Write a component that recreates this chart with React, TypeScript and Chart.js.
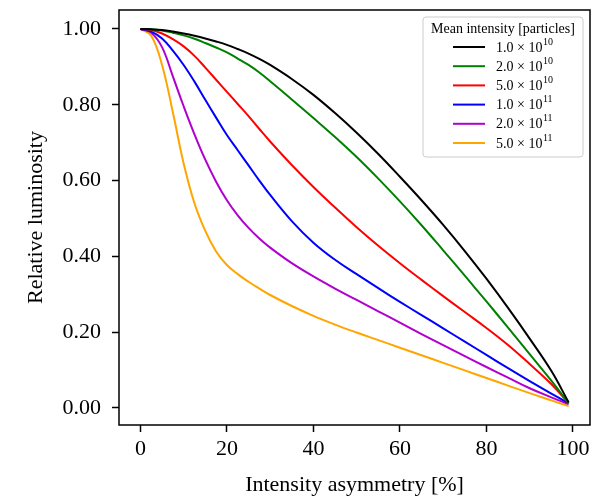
import React, { useEffect, useRef } from 'react';
import { Chart, registerables } from 'chart.js';

Chart.register(...registerables);

// ---- Data ----
const xValues = [0, 2.5, 5, 7.5, 10, 12.5, 15, 17.5, 20, 22.5, 25, 27.5, 30, 35, 40, 45, 50, 55, 60, 65, 70, 75, 80, 85, 90, 95, 99];

const lum1e10 = [1.0, 0.999, 0.997, 0.993, 0.988, 0.982, 0.975, 0.967, 0.958, 0.947, 0.935, 0.921, 0.905, 0.868, 0.826, 0.778, 0.726, 0.67, 0.61, 0.548, 0.483, 0.414, 0.341, 0.264, 0.183, 0.098, 0.015];
const lum2e10 = [1.0, 0.999, 0.996, 0.99, 0.983, 0.974, 0.963, 0.951, 0.938, 0.922, 0.905, 0.885, 0.862, 0.814, 0.765, 0.715, 0.662, 0.605, 0.545, 0.482, 0.416, 0.349, 0.281, 0.212, 0.142, 0.072, 0.013];
const lum5e10 = [1.0, 0.997, 0.988, 0.973, 0.954, 0.929, 0.898, 0.866, 0.834, 0.802, 0.77, 0.736, 0.703, 0.641, 0.583, 0.529, 0.477, 0.428, 0.382, 0.338, 0.295, 0.253, 0.211, 0.166, 0.116, 0.063, 0.012];
const lum1e11 = [1.0, 0.993, 0.975, 0.943, 0.905, 0.861, 0.813, 0.766, 0.72, 0.68, 0.64, 0.6, 0.562, 0.493, 0.436, 0.391, 0.353, 0.316, 0.28, 0.245, 0.21, 0.175, 0.14, 0.105, 0.071, 0.038, 0.012];
const lum2e11 = [1.0, 0.99, 0.952, 0.875, 0.796, 0.722, 0.655, 0.597, 0.548, 0.508, 0.475, 0.447, 0.423, 0.382, 0.347, 0.315, 0.285, 0.255, 0.225, 0.195, 0.166, 0.137, 0.108, 0.08, 0.052, 0.028, 0.01];
const lum5e11 = [1.0, 0.982, 0.905, 0.78, 0.645, 0.54, 0.467, 0.413, 0.377, 0.353, 0.333, 0.315, 0.298, 0.269, 0.243, 0.22, 0.199, 0.179, 0.159, 0.139, 0.119, 0.099, 0.079, 0.059, 0.039, 0.02, 0.005];

const seriesValues = [lum1e10, lum2e10, lum5e10, lum1e11, lum2e11, lum5e11];
const labelMantissas = ['1.0', '2.0', '5.0', '1.0', '2.0', '5.0'];
const labelExponents = ['10', '10', '10', '11', '11', '11'];
const seriesColors = ['#000000', '#008000', '#ff0000', '#0000ff', '#b000d0', '#ffa500'];

const legendTitle = 'Mean intensity [particles]';
const xTitle = 'Intensity asymmetry [%]';
const yTitle = 'Relative luminosity';

const FONT = '"Liberation Serif", "Times New Roman", serif';

const framePlugin = {
  id: 'frame',
  afterDatasetsDraw(chart: any) {
    const { ctx, chartArea } = chart;
    ctx.save();
    ctx.strokeStyle = '#000';
    ctx.lineWidth = 1.5;
    ctx.strokeRect(chartArea.left, chartArea.top, chartArea.right - chartArea.left, chartArea.bottom - chartArea.top);
    ctx.restore();
  },
};

const legendPlugin = {
  id: 'mplLegend',
  afterDraw(chart: any) {
    const { ctx, chartArea } = chart;
    const w = 160;
    const h = 140;
    const x0 = chartArea.right - 7 - w;
    const y0 = chartArea.top + 7;
    ctx.save();
    ctx.beginPath();
    ctx.roundRect(x0, y0, w, h, 3);
    ctx.fillStyle = 'rgba(255,255,255,0.85)';
    ctx.fill();
    ctx.strokeStyle = '#cccccc';
    ctx.lineWidth = 1;
    ctx.stroke();

    ctx.fillStyle = '#000';
    ctx.font = `14px ${FONT}`;
    ctx.textAlign = 'center';
    ctx.textBaseline = 'middle';
    ctx.fillText(legendTitle, x0 + w / 2, y0 + 12.5);

    for (let i = 0; i < seriesValues.length; i++) {
      const ly = y0 + 30 + i * 19.2;
      ctx.strokeStyle = seriesColors[i];
      ctx.lineWidth = 2;
      ctx.beginPath();
      ctx.moveTo(x0 + 30, ly);
      ctx.lineTo(x0 + 62, ly);
      ctx.stroke();

      ctx.fillStyle = '#000';
      ctx.textAlign = 'left';
      ctx.font = `14px ${FONT}`;
      const main = `${labelMantissas[i]} \u00d7 10`;
      const tx = x0 + 73;
      ctx.fillText(main, tx, ly + 1);
      const mw = ctx.measureText(main).width;
      ctx.font = `10px ${FONT}`;
      ctx.fillText(labelExponents[i], tx + mw + 0.5, ly - 5);
    }
    ctx.restore();
  },
};

export default function App() {
  const canvasRef = useRef<HTMLCanvasElement | null>(null);

  useEffect(() => {
    const canvas = canvasRef.current;
    if (!canvas) return;
    const datasets = seriesValues.map((vals, i) => ({
      label: `${labelMantissas[i]}×10^${labelExponents[i]}`,
      data: xValues.map((x, j) => ({ x, y: vals[j] })),
      borderColor: seriesColors[i],
      backgroundColor: seriesColors[i],
      borderWidth: 2,
      pointRadius: 0,
      tension: 0.4,
      fill: false,
    }));

    const chart = new Chart(canvas, {
      type: 'line',
      data: { datasets },
      options: {
        responsive: false,
        animation: false,
        layout: { padding: { top: 10, right: 7, left: 0, bottom: 0 } },
        plugins: {
          legend: { display: false },
          tooltip: { enabled: false },
        },
        scales: {
          x: {
            type: 'linear',
            min: -4.95,
            max: 103.95,
            ticks: {
              stepSize: 20,
              includeBounds: false,
              autoSkip: false,
              maxRotation: 0,
              color: '#000',
              padding: 4,
              font: { family: FONT, size: 22 },
              callback: (v: any) => String(Math.round(Number(v))),
            },
            grid: { drawOnChartArea: false, drawTicks: true, tickLength: 7, tickColor: '#000', tickWidth: 1.5 },
            border: { display: false },
            title: {
              display: true,
              text: xTitle,
              color: '#000',
              font: { family: FONT, size: 22, lineHeight: 1.2 },
              padding: { top: 0, bottom: 0 },
            },
            afterFit: (s: any) => {
              s.height = 73;
              s.paddingLeft = 0;
              s.paddingRight = 0;
            },
          },
          y: {
            type: 'linear',
            min: -0.045,
            max: 1.05,
            ticks: {
              stepSize: 0.2,
              includeBounds: false,
              autoSkip: false,
              color: '#000',
              padding: 11,
              font: { family: FONT, size: 22 },
              callback: (v: any) => Number(v).toFixed(2),
            },
            grid: { drawOnChartArea: false, drawTicks: true, tickLength: 7, tickColor: '#000', tickWidth: 1.5 },
            border: { display: false },
            title: {
              display: true,
              text: yTitle,
              color: '#000',
              font: { family: FONT, size: 22, lineHeight: 1.2 },
              padding: { top: 23, bottom: 0 },
            },
            afterFit: (s: any) => {
              s.width = 119;
              s.paddingTop = 0;
              s.paddingBottom = 0;
            },
          },
        },
      },
      plugins: [framePlugin, legendPlugin],
    });
    return () => chart.destroy();
  }, []);

  return (
    <div style={{ position: 'absolute', left: 0, top: 0, width: 597, height: 498, background: '#fff' }}>
      <canvas ref={canvasRef} width={597} height={498} style={{ display: 'block', width: 597, height: 498 }} />
    </div>
  );
}
